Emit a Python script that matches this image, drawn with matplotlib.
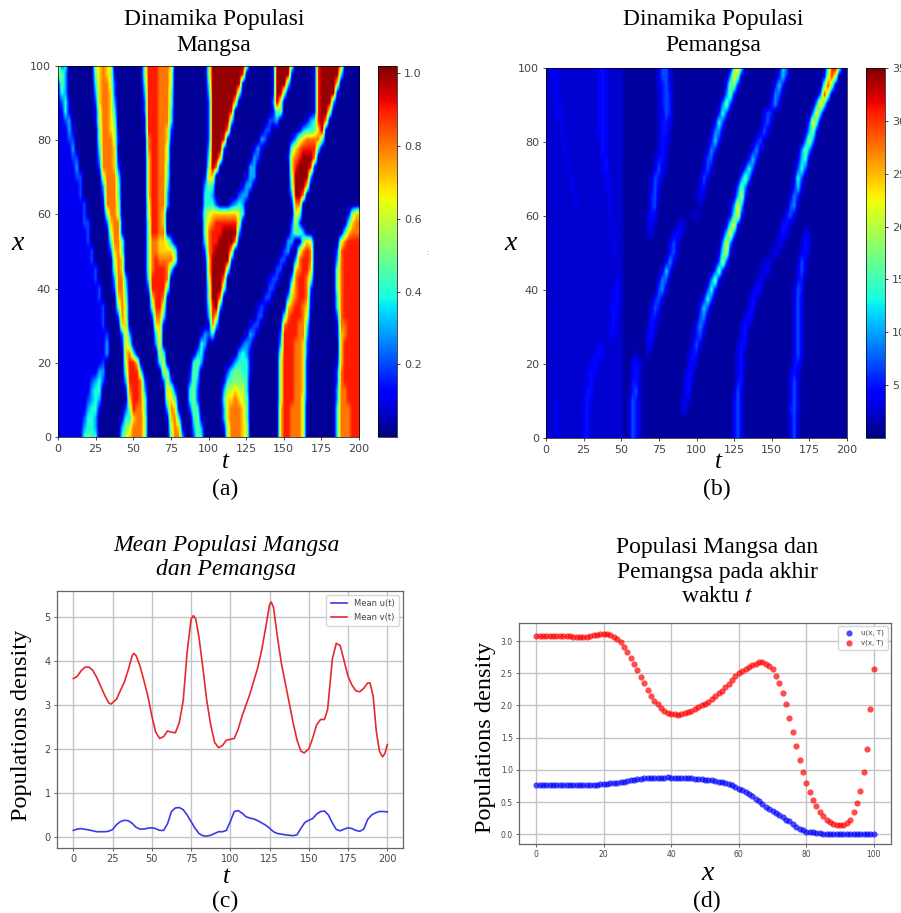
import numpy as np
import matplotlib
matplotlib.use('Agg')
import matplotlib.pyplot as plt

W = 901
H = 913
SERIF = 'Liberation Serif'

# prey field, one string per x row (x=100 down to 0 in steps of 2.5),
# 81 cells per row, t=0..200 in steps of 2.5, grouped per 25 units of t
prey_rows = [
"7240000000 6787600000 0005999888 7100000000 5aaaaaaaaa 60000001aa aa50000019 aaaaa81000 0",
"5530000000 5787610000 0005999888 6000000000 5aaaaaaaa9 00000001aa aa10000019 aaaaa40000 0",
"1530000000 4788620000 0004999888 6000000000 4aaaaaaaa1 00000001aa a400000019 aaaa700000 0",
"1430000000 3788720000 0003999888 5000000000 3aaaaaaa50 00000001aa 5000000019 aaaa100000 0",
"1241000000 2788730000 0002999888 5000000000 2aaaaaa700 00000002a6 0000000019 aaa3000000 0",
"1141000000 1688740000 0002999888 4000000000 2aaaaa9000 0000000155 0000000019 aa60000000 0",
"1123000000 1688750000 0001999888 4000000000 2aaaaa4000 0000002230 0000001349 a800000000 0",
"1113100000 0588760000 0001999887 2000000000 2aaaa80000 0000022000 0000134457 a100000000 0",
"1112200000 0588861000 0000899887 1000000000 2aaa900000 0000320000 0013678888 5000000000 0",
"1111300000 0488870000 0000899886 0000000000 3aaa200000 0013100000 0057899994 0000000000 0",
"1111220000 0388871000 0000799886 0000000000 4aa7000000 0032000000 01789aaa80 0000000000 0",
"1111130000 0288872000 0000799885 0000000000 5a80000000 0330000000 0079aaa910 0000000000 0",
"1111122000 0068884000 0000799885 0000000001 7700000000 1330000000 006aaaa300 0000000000 0",
"1111112000 0038885000 0000799884 0000000003 5400000001 3300000000 005aaa7000 0000000000 0",
"1111112000 0028885000 0000799883 0000000004 4300000023 3000000000 003aa80000 0000000000 0",
"1111111200 0018886000 0000699883 0000000004 4420002343 0000000000 0018800000 0000000000 0",
"1111111200 0005886000 0000699870 0000000015 6777777764 0000000000 0007500000 0000000157 7",
"1111111220 0002788100 0000599870 0000000005 7899999960 0000000000 0026200000 0000000478 8",
"1111111120 0000688100 0000599880 0000000005 8999aaaa30 0000000000 0035530000 0000004788 8",
"1111111120 0000488500 0000588776 3000000004 899aaaa800 0000000000 0330057600 0000068999 9",
"1111111112 0000278500 0000588777 7500000002 89aaaa7000 0000000000 2300689800 0000289999 9",
"1111111112 0000068700 0000589888 8600000001 7aaaaa2000 0000000002 2003899800 0000389999 9",
"1111111111 2000058700 0000589998 4000000000 7aaaa50000 0000000022 0007899700 0000589999 9",
"1111111111 2000038830 0000499998 0000000000 6aaa800000 0000001220 0038998500 0000589999 9",
"1111111111 1200028840 0000299995 0000000000 5aaa500000 0000002200 0068998200 0000589999 9",
"1111111111 1200007850 0000079981 0000000000 5aa8000000 0000022000 0378998100 0000489999 9",
"1111111111 1120005860 0000059960 0000000000 49a3000000 0001210000 0789987100 0000489999 9",
"1111111111 1120002860 0000028840 0000000000 3970000000 0002200000 4899986000 0000289999 9",
"1111111111 1120000770 0000007710 0000000000 1830000000 0122000001 8999884000 0000188999 9",
"1111111111 1112000273 0000004700 0000000013 2400000000 1320000002 9999883000 0000178999 9",
"1111111111 1113000175 0000003700 0000000043 0000000002 3200000003 9998872000 0000079999 9",
"1111111111 1113000078 4000000640 0000000341 0000000034 3100000005 9998872000 0000079999 9",
"1111111111 1120000069 9700000460 0000004530 0000001344 4100000006 9998871000 0000179999 9",
"1111111111 1330000059 9940000065 0000015400 0000024554 4100000006 9998871000 0000289999 9",
"1111111112 3420000039 9982000026 2000025300 0000145555 4000000006 9998871000 0000289999 9",
"1111111113 4400000018 9983000007 6200045200 0000366766 4000000006 9998871000 0000388999 9",
"1111111123 4300000007 9985000006 7500045200 0000477876 5000000006 9998861000 0000388999 9",
"1111111134 4100000025 9885000003 8710025400 0000378887 5000000007 9988860000 0000488899 9",
"1111111244 3000000144 7886000001 7840004510 0000378887 5000000007 9988860000 0000488899 9",
"1111111344 3000000356 8886000000 6871003530 0000168887 6000000007 9988860000 0000488899 9",
"1111111454 4000000467 8886000000 5883002540 0000068887 6000000007 9988860000 0000488899 9",
]
prey_levels = {'0': 0.02, '1': 0.1, '2': 0.2, '3': 0.3, '4': 0.4, '5': 0.5, '6': 0.6,
               '7': 0.7, '8': 0.8, '9': 0.9, 'a': 1.0}

# predator field, same layout
pred_rows = [
"1122111111 1111232111 1000000000 2442000000 0000000000 7b70000000 0026500000 000007cd80 0",
"1122111111 1111232111 1000000000 2442000000 0000000005 a810000000 0036300000 000029c900 0",
"1122111111 1111232111 1000000000 2342000000 0000000038 8300000000 0363000000 00008c8100 0",
"1122111111 1111232111 1000000000 1343000000 0000000058 3000000000 1540000000 0005c80000 0",
"1112211111 1111232111 1000000000 1343000000 0000000584 0000000000 3520000000 006b700000 0",
"1112211111 1111232111 1000000000 1243000000 0000003740 0000000024 3000000000 05a6000000 0",
"1111211111 1111232111 1000000000 1332000000 0000027400 0000000034 1000000000 4a70000000 0",
"1111211111 1111232111 1000000000 1331000000 0000155100 0000000242 0000000001 6820000000 0",
"1111121111 1111132111 1000000000 1321000000 0000363000 0000003410 0000000005 9500000000 0",
"1111121111 1111132111 1000000000 2320000000 0002530000 0000035200 0000000058 5000000000 0",
"1111112111 1111123111 1000000001 3310000000 0014400000 0000363000 0000000267 1000000000 0",
"1111112111 1111123111 1000000002 4210000000 0024200000 0004740000 0000000474 0000000000 0",
"1111111211 1111112211 1000000014 3100000000 0142000000 0058500000 0000002740 0000000000 0",
"1111111211 1111112211 1000000024 2000000000 0230000000 0485000000 0000003620 0000000000 0",
"1111111121 1111111211 1000000034 1000000000 1210000000 1693000000 0000025300 0000000000 0",
"1111111121 1111111211 1000000034 0000000000 0100000001 5a60000000 0000045100 0000000000 0",
"1111111111 1111111211 1000000132 0000000001 1000000002 7a30000000 0000342000 0000000000 0",
"1111111111 1111111121 1000000121 0000012100 0000000027 a300000000 0003310000 0000000000 0",
"1111111111 1111111211 1000000120 0000232000 000000016a 5000000000 0023200002 1000000000 0",
"1111111111 1111111121 1000000000 0002420000 00000005a5 0000000000 0121000013 2000000000 0",
"1111111111 1111111121 1000000000 0003410000 0000001792 0000000000 1210000023 1000000000 0",
"1111111111 1111111111 1000000000 0025200000 0000004940 0000000012 1000000142 0000000000 0",
"1111111111 1111111111 1000000000 0263000000 0000048300 0000000122 0000000242 0000000000 0",
"1111111111 1111111112 1000000000 2540000000 0000582000 0000001210 0000000330 0000000000 0",
"1111111111 1111111123 1000000000 4510000000 0004730000 0000013200 0000001430 0000000000 0",
"1111111111 1111111123 1000000003 4200000000 0037400000 0000132000 0000002420 0000000000 0",
"1111111111 1111111232 1000000024 3000000000 0364000000 0000230000 0000002420 0000000000 0",
"1111111111 1111111132 1000000033 1000000000 0451000000 0002310000 0000002420 0000000000 0",
"1111111111 1111111231 1000000132 0000000000 3530000000 0023100000 0000002420 0000000000 0",
"1111111111 1111111221 1000000231 0000000001 3410000000 0023000000 0000002420 0000000000 0",
"1111111111 1111221111 1000000220 0000000002 4200000000 0132000000 0000002420 0000000000 0",
"1111111111 1112321111 1000100100 0000000013 3000000000 0230000000 0000002420 0000000000 0",
"1111111111 1123211111 1002320000 0000000023 1000000000 0231000000 0000003310 0000000000 0",
"1111111111 1232111111 1002310000 0000000132 0000000000 0230000000 0000023200 0000000000 0",
"1111111111 1231111111 1003310000 0000000231 0000000000 0330000000 0000024200 0000000000 0",
"1111111111 1331111111 1003410000 0000000230 0000000000 1420000000 0000024200 0000000000 0",
"1112111111 2321111111 1014310000 0000001210 0000000000 2420000000 0000024200 0000000000 0",
"1112111111 2311111111 1014310000 0000001200 0000000000 2420000000 0000034200 0000000000 0",
"1112111111 2311111111 1014310000 0000000000 0000000000 2420000000 0000024100 0000000000 0",
"1112111111 2311111111 1014310000 0000000000 0000000000 2420000000 0000024100 0000000000 0",
"1112111111 3311111111 1014310000 0000000000 0000000000 2420000000 0000024100 0000000000 0",
]
pred_levels = {'0': 1.0, '1': 2.5, '2': 3.5, '3': 5, '4': 7, '5': 9, '6': 11.5, '7': 14,
               '8': 17, '9': 20, 'a': 23, 'b': 26, 'c': 30, 'd': 34}

# panel (c)
v_t = [0, 2.5, 5, 7.5, 10, 12.5, 15, 17.5, 20, 22.5, 24, 27.5, 30, 32.5, 35, 37.5, 38.5, 40, 42.5, 45,
       47.5, 50, 52.5, 55, 57.5, 60, 62.5, 65, 67.5, 70, 72.5, 75, 76.5, 78, 80, 82.5, 85, 87.5, 90, 92.5,
       95, 97.5, 100, 102.5, 105, 107.5, 110, 112.5, 115, 117.5, 120, 122.5, 125, 126, 127.5, 130, 132.5,
       135, 137.5, 140, 142.5, 145, 147, 150, 152.5, 155, 157.5, 160, 162, 165, 167.5, 170, 172.5, 175,
       177.5, 180, 182.5, 185, 187.5, 189, 191, 193, 195, 197, 198.5, 200]
mean_v = [3.6, 3.65, 3.78, 3.86, 3.86, 3.78, 3.62, 3.42, 3.22, 3.05, 3.02, 3.13, 3.33, 3.52, 3.8, 4.12, 4.17,
          4.12, 3.88, 3.55, 3.2, 2.75, 2.38, 2.24, 2.28, 2.41, 2.38, 2.37, 2.6, 3.1, 4.2, 4.95, 5.03, 4.95,
          4.55, 3.85, 3.1, 2.55, 2.15, 2.03, 2.08, 2.2, 2.22, 2.24, 2.45, 2.75, 3.0, 3.25, 3.55, 3.85, 4.25,
          4.75, 5.28, 5.34, 5.22, 4.55, 3.95, 3.5, 3.05, 2.6, 2.2, 1.95, 1.91, 2.0, 2.25, 2.55, 2.67, 2.67,
          2.9, 4.05, 4.4, 4.35, 4.0, 3.65, 3.45, 3.32, 3.3, 3.38, 3.5, 3.5, 3.2, 2.4, 1.95, 1.82, 1.9, 2.1]
u_t = [0, 2.5, 5, 10, 15, 20, 22.5, 25, 27.5, 30, 32.5, 35, 37.5, 40, 42.5, 45, 47.5, 50, 52.5, 55, 57.5, 60,
       62.5, 65, 67.5, 70, 72.5, 75, 77.5, 80, 82.5, 85, 87.5, 90, 92.5, 95, 97.5, 100, 102.5, 105, 107.5,
       110, 112.5, 115, 117.5, 120, 122.5, 125, 127.5, 130, 135, 140, 142.5, 145, 147.5, 150, 152.5, 155,
       157.5, 160, 162.5, 165, 167.5, 170, 172.5, 175, 177.5, 180, 182.5, 185, 187.5, 190, 192.5, 195,
       197.5, 200]
mean_u = [.15, .18, .19, .16, .12, .12, .13, .17, .28, .35, .38, .37, .31, .22, .18, .18, .2, .21, .19, .15,
          .15, .3, .58, .66, .67, .62, .5, .35, .2, .08, .03, .02, .04, .08, .12, .12, .15, .35, .58, .6, .54,
          .46, .43, .41, .37, .32, .27, .2, .12, .08, .05, .03, .05, .2, .33, .38, .42, .52, .58, .59, .5,
          .32, .17, .14, .18, .21, .19, .15, .13, .18, .4, .5, .55, .58, .58, .57]

# panel (d), x = 0..100
end_x = list(range(101))
end_v = [3.08, 3.08, 3.08, 3.08, 3.08, 3.08, 3.08, 3.08, 3.08, 3.08, 3.08, 3.07, 3.07, 3.07, 3.07, 3.07,
         3.08, 3.09, 3.10, 3.11, 3.11, 3.11, 3.10, 3.07, 3.03, 2.98, 2.91, 2.83, 2.74, 2.64, 2.55, 2.44,
         2.35, 2.24, 2.15, 2.07, 2.02, 1.96, 1.92, 1.88, 1.86, 1.86, 1.85, 1.86, 1.88, 1.90, 1.92, 1.94,
         1.97, 2.00, 2.03, 2.06, 2.10, 2.14, 2.19, 2.23, 2.28, 2.33, 2.39, 2.45, 2.50, 2.53, 2.56, 2.60,
         2.63, 2.65, 2.67, 2.67, 2.65, 2.62, 2.56, 2.46, 2.35, 2.20, 2.02, 1.81, 1.59, 1.37, 1.16, .96,
         .80, .65, .54, .44, .35, .28, .23, .19, .16, .14, .14, .14, .17, .22, .34, .48, .67, .96, 1.33,
         1.94, 2.56]
end_u = [.77, .77, .77, .77, .77, .77, .77, .77, .77, .77, .77, .77, .77, .77, .77, .77, .77, .77, .77, .78,
         .78, .78, .79, .79, .80, .81, .82, .83, .84, .85, .86, .86, .87, .87, .88, .88, .88, .88, .88, .89,
         .88, .88, .88, .88, .87, .87, .87, .86, .86, .86, .85, .85, .84, .83, .82, .81, .80, .78, .76, .74,
         .71, .69, .66, .63, .59, .55, .51, .47, .43, .40, .36, .33, .30, .27, .23, .20, .16, .12, .09, .06,
         .04, .03, .03, .02, .02, .01, .01, .01, .01, .01, .01, .01, .01, .01, .01, .01, .01, .01, .01, .01,
         .01]

t_ticks = [0, 25, 50, 75, 100, 125, 150, 175, 200]
x_ticks = [0, 20, 40, 60, 80, 100]


def to_grid(rows, levels):
    grid = []
    for i, r in enumerate(rows):
        r = r.replace(' ', '')
        if len(r) != 81:
            raise ValueError('row %d has %d cells' % (i, len(r)))
        grid.append([levels[c] for c in r])
    return np.array(grid)


def px_axes(fig, left, top, right, bottom):
    return fig.add_axes([left / W, 1 - bottom / H, (right - left) / W, (bottom - top) / H])


def label(fig, x, y, s, size, **kw):
    fig.text(x / W, 1 - y / H, s, fontsize=size, family=SERIF, ha='center', va='center', **kw)


def heat(fig, box, cbox, data, vmax, cticks):
    ax = px_axes(fig, *box)
    im = ax.imshow(data, cmap='jet', vmin=0, vmax=vmax, aspect='auto', interpolation='bilinear',
                   extent=[-1.25, 201.25, -1.25, 101.25])
    ax.set_xlim(0, 200)
    ax.set_ylim(0, 100)
    ax.set_xticks(t_ticks)
    ax.set_yticks(x_ticks)
    ax.tick_params(labelsize=8, colors='#444444', length=2.5, width=0.7, pad=2.5)
    for s in ax.spines.values():
        s.set_linewidth(0.5)
    cax = px_axes(fig, *cbox)
    cb = fig.colorbar(im, cax=cax)
    cb.set_ticks(cticks)
    cb.ax.tick_params(labelsize=8, colors='#444444', length=2.5, width=0.7, pad=2.5)
    cb.outline.set_linewidth(0.5)
    return ax


def line_frame(ax, size):
    ax.grid(True, color='#c4c4c4', linewidth=1.0)
    ax.set_axisbelow(True)
    ax.tick_params(labelsize=size, colors='#444444', length=2, width=0.6, pad=2.5)
    for s in ax.spines.values():
        s.set_color('#666666')
        s.set_linewidth(0.9)


fig = plt.figure(figsize=(W / 100, H / 100), dpi=100)

heat(fig, (58, 66, 359, 437), (378, 66, 397, 437), to_grid(prey_rows, prey_levels), 1.02, [.2, .4, .6, .8, 1.0])
heat(fig, (546, 68, 847, 438), (866, 68, 885, 438), to_grid(pred_rows, pred_levels), 35, [5, 10, 15, 20, 25, 30, 35])

label(fig, 214, 19, 'Dinamika Populasi', 17)
label(fig, 214, 45, 'Mangsa', 17)
label(fig, 713, 19, 'Dinamika Populasi', 17)
label(fig, 713, 45, 'Pemangsa', 17)
label(fig, 225, 462, 't', 18, style='italic')
label(fig, 225, 489, '(a)', 17)
label(fig, 18, 243, 'x', 20, style='italic')
label(fig, 718, 462, 't', 18, style='italic')
label(fig, 717, 489, '(b)', 17)
label(fig, 511, 243, 'x', 20, style='italic')
fig.text(427 / W, 1 - 253 / H, ':', fontsize=5, color='#888888', ha='center', va='center')

# panel (c)
ax = px_axes(fig, 57, 591, 403, 848)
ax.plot(u_t, mean_u, color='#3a3ae6', linewidth=1.2, label='Mean u(t)')
ax.plot(v_t, mean_v, color='#e6282f', linewidth=1.2, label='Mean v(t)')
ax.set_xlim(-10.4, 210)
ax.set_ylim(-0.25, 5.59)
ax.set_xticks(t_ticks)
ax.set_yticks([0, 1, 2, 3, 4, 5])
line_frame(ax, 7)
ax.legend(loc='upper right', fontsize=6, labelcolor='#444444', borderpad=0.5)

label(fig, 226, 545, 'Mean Populasi Mangsa', 17, style='italic')
label(fig, 226, 569, 'dan Pemangsa', 17, style='italic')
label(fig, 22, 725, 'Populations density', 17.5, rotation=90)
label(fig, 226, 877, 't', 18, style='italic')
label(fig, 225, 901, '(c)', 17)

# panel (d)
ax = px_axes(fig, 519, 623, 891, 844)
ax.scatter(end_x, end_u, s=20, color='blue', alpha=0.7, linewidths=0, label='u(x, T)')
ax.scatter(end_x, end_v, s=20, color='red', alpha=0.7, linewidths=0, label='v(x, T)')
ax.set_xlim(-5.1, 105.1)
ax.set_ylim(-0.15, 3.28)
ax.set_xticks(x_ticks)
ax.set_yticks([0, .5, 1, 1.5, 2, 2.5, 3])
ax.set_yticklabels(['0.0', '0.5', '1.0', '1.5', '2.0', '2.5', '3.0'])
line_frame(ax, 5.5)
ax.legend(loc='upper right', fontsize=5, labelcolor='#444444', borderpad=0.5)

label(fig, 717, 547, 'Populasi Mangsa dan', 17)
label(fig, 717, 572, 'Pemangsa pada akhir', 17)
label(fig, 717, 596, 'waktu $\\mathit{t}$', 17, math_fontfamily='stix')
label(fig, 486, 737, 'Populations density', 17.5, rotation=90)
label(fig, 708, 873, 'x', 20, style='italic')
label(fig, 707, 901, '(d)', 17)

fig.savefig('out.png', dpi=100)
